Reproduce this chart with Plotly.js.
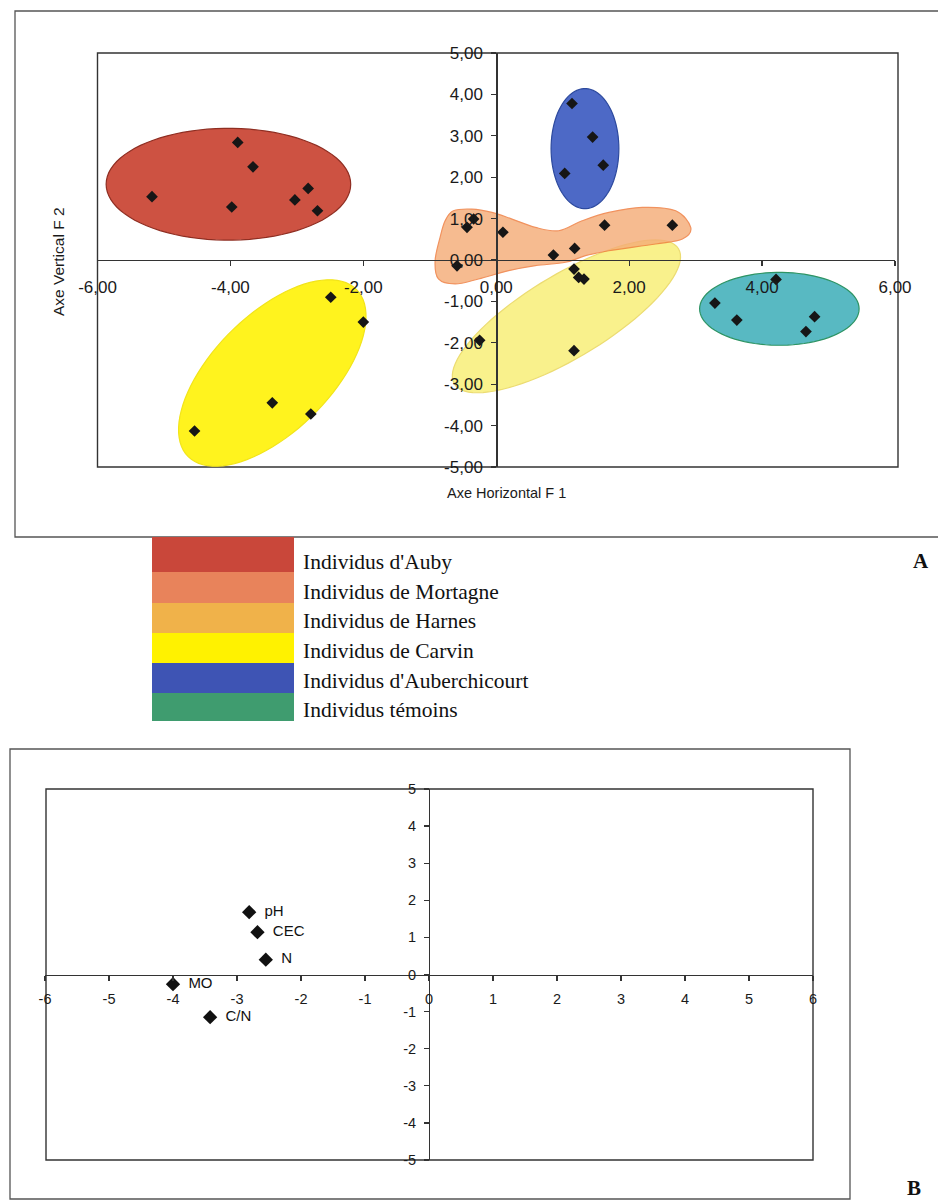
<!DOCTYPE html>
<html>
<head>
<meta charset="utf-8">
<script src="https://cdn.plot.ly/plotly-3.0.1.min.js"></script>
<style>html,body{margin:0;padding:0;background:#fff;}#chart{width:938px;height:1202px;}</style>
</head>
<body>
<div id="chart"></div>
<script>
// ---------- Data ----------
const groupNames = ["Individus d'Auby", "Individus de Mortagne", "Individus de Harnes",
                    "Individus de Carvin", "Individus d'Auberchicourt", "Individus témoins"];
const aubyX   = [-5.18, -3.89, -3.66, -3.98, -2.83, -3.03, -2.69];
const aubyY   = [ 1.53,  2.84,  2.25,  1.28,  1.73,  1.45,  1.19];
const mortX   = [-0.44, -0.34, -0.59, 0.10, 0.86, 1.18, 1.63, 2.65];
const mortY   = [ 0.79,  0.99, -0.14, 0.67, 0.12, 0.28, 0.84, 0.84];
const harnesX = [1.17, 1.24, 1.32, -0.25, 1.17];
const harnesY = [-0.22, -0.42, -0.46, -1.94, -2.19];
const carvinX = [-2.49, -2.00, -3.37, -2.79, -4.54];
const carvinY = [-0.90, -1.50, -3.45, -3.72, -4.13];
const auberX  = [1.14, 1.45, 1.61, 1.03];
const auberY  = [3.78, 2.97, 2.29, 2.09];
const temoinX = [4.21, 3.29, 3.62, 4.79, 4.66];
const temoinY = [-0.47, -1.04, -1.45, -1.37, -1.73];

const varNames = ["pH", "CEC", "N", "MO", "C/N"];
const varX = [-2.81, -2.68, -2.55, -4.00, -3.42];
const varY = [ 1.68,  1.14,  0.40, -0.26, -1.15];

// tick values and labels
const topXTicks = [-6, -4, -2, 0, 2, 4, 6];
const topXLabels = ["-6,00", "-4,00", "-2,00", "0,00", "2,00", "4,00", "6,00"];
const topYTicks = [-5, -4, -3, -2, -1, 0, 1, 2, 3, 4, 5];
const topYLabels = ["-5,00", "-4,00", "-3,00", "-2,00", "-1,00", "0,00", "1,00", "2,00", "3,00", "4,00", "5,00"];
const botXTicks = [-6, -5, -4, -3, -2, -1, 0, 1, 2, 3, 4, 5, 6];
const botXLabels = ["-6", "-5", "-4", "-3", "-2", "-1", "0", "1", "2", "3", "4", "5", "6"];
const botYTicks = [-5, -4, -3, -2, -1, 0, 1, 2, 3, 4, 5];
const botYLabels = ["-5", "-4", "-3", "-2", "-1", "0", "1", "2", "3", "4", "5"];

// ---------- Group envelopes (drawn as shapes) ----------
const envAuby   = {c: [-4.03, 1.83], u: [1.84, 0], v: [0, 1.35]};
const envAuber  = {c: [1.335, 2.69], u: [0.51, 0], v: [0, 1.45]};
const envTemoin = {c: [4.26, -1.18], u: [1.20, 0], v: [0, 0.88]};
const envCarvin = {c: [-3.37, -2.73], u: [1.265, 2.02], v: [0.624, -0.997]};
const envHarnes = {c: [1.056, -1.361], u: [1.686, 1.633], v: [0.326, -0.860]};
const mortOutlineX = [-0.644,-0.367,-0.065,0.237,0.588,0.940,1.293,1.694,2.198,2.700,2.926,2.801,2.398,1.694,1.342,1.041,0.588,0.186,-0.267,-0.618,-0.870,-0.920,-0.845,-0.769];
const mortOutlineY = [1.188,1.229,1.149,0.988,0.788,0.706,0.947,1.149,1.270,1.188,0.788,0.506,0.386,0.224,0.104,-0.055,-0.137,-0.258,-0.458,-0.578,-0.458,-0.017,0.547,0.947];

function ellipsePath(e) {
  let s = '';
  const n = 90;
  for (let i = 0; i <= n; i++) {
    const t = 2 * Math.PI * i / n;
    const x = e.c[0] + e.u[0] * Math.cos(t) + e.v[0] * Math.sin(t);
    const y = e.c[1] + e.u[1] * Math.cos(t) + e.v[1] * Math.sin(t);
    s += (i === 0 ? 'M ' : ' L ') + x.toFixed(4) + ',' + y.toFixed(4);
  }
  return s + ' Z';
}
function smoothClosedPath(xs, ys) {
  const n = xs.length;
  const P = i => [xs[(i + n) % n], ys[(i + n) % n]];
  let s = 'M ' + xs[0] + ',' + ys[0];
  for (let i = 0; i < n; i++) {
    const p0 = P(i - 1), p1 = P(i), p2 = P(i + 1), p3 = P(i + 2);
    const c1 = [p1[0] + (p2[0] - p0[0]) / 6, p1[1] + (p2[1] - p0[1]) / 6];
    const c2 = [p2[0] - (p3[0] - p1[0]) / 6, p2[1] - (p3[1] - p1[1]) / 6];
    s += ' C ' + c1[0].toFixed(4) + ',' + c1[1].toFixed(4) + ' ' + c2[0].toFixed(4) + ',' + c2[1].toFixed(4) + ' ' + p2[0].toFixed(4) + ',' + p2[1].toFixed(4);
  }
  return s + ' Z';
}

// ---------- page geometry helpers (pixels -> paper) ----------
const W = 938, H = 1202;
const px = x => x / W;
const py = y => 1 - y / H;

const SANS = 'Liberation Sans, Arial, sans-serif';
const SERIF = 'Liberation Serif, Times New Roman, serif';
const AX = '#333333';

const T = {x0: 97.5, x1: 895, y0: 53, y1: 467};
const B = {x0: 45, x1: 813, y0: 789, y1: 1160};

const mk = {symbol: 'diamond', size: 9, color: '#161616', line: {width: 0}};
const traces = [
  {x: aubyX, y: aubyY, name: groupNames[0]},
  {x: mortX, y: mortY, name: groupNames[1]},
  {x: harnesX, y: harnesY, name: groupNames[2]},
  {x: carvinX, y: carvinY, name: groupNames[3]},
  {x: auberX, y: auberY, name: groupNames[4]},
  {x: temoinX, y: temoinY, name: groupNames[5]}
].map(t => Object.assign(t, {type: 'scatter', mode: 'markers', marker: mk, xaxis: 'x', yaxis: 'y', hoverinfo: 'x+y+name'}));

traces.push({
  type: 'scatter', mode: 'markers+text', x: varX, y: varY, text: varNames.map(s => '\u2002' + s),
  textposition: 'middle right', textfont: {family: SANS, size: 15, color: '#111'},
  marker: {symbol: 'diamond', size: 11, color: '#111', line: {width: 0}},
  xaxis: 'x2', yaxis: 'y2', cliponaxis: false
});

const shapes = [];
shapes.push({type: 'rect', xref: 'paper', yref: 'paper', x0: px(15), x1: px(960), y0: py(537), y1: py(11),
             line: {color: '#555', width: 1.3}, fillcolor: 'rgba(0,0,0,0)', layer: 'below'});
shapes.push({type: 'rect', xref: 'paper', yref: 'paper', x0: px(10), x1: px(850), y0: py(1199), y1: py(749),
             line: {color: '#555', width: 1.3}, fillcolor: 'rgba(0,0,0,0)', layer: 'below'});
shapes.push({type: 'rect', xref: 'paper', yref: 'paper', x0: px(T.x0), x1: px(T.x1 + 3), y0: py(T.y1), y1: py(T.y0),
             line: {color: AX, width: 1.4}, fillcolor: 'rgba(0,0,0,0)', layer: 'below'});
shapes.push({type: 'rect', xref: 'paper', yref: 'paper', x0: px(B.x0 + 1), x1: px(B.x1), y0: py(B.y1), y1: py(B.y0),
             line: {color: AX, width: 1.4}, fillcolor: 'rgba(0,0,0,0)', layer: 'below'});

function env(path, fill, line, opacity) {
  shapes.push({type: 'path', xref: 'x', yref: 'y', path: path, fillcolor: fill,
               line: {color: line, width: 1.2}, opacity: opacity, layer: 'below'});
}
env(ellipsePath(envAuby), '#cd5242', '#8f2e22', 1);
env(ellipsePath(envAuber), '#4d69c6', '#2d4a9e', 1);
env(ellipsePath(envTemoin), '#58b9c2', '#2e9464', 1);
env(ellipsePath(envCarvin), '#fff31e', '#f2e41a', 1);
env(ellipsePath(envHarnes), '#f8ef78', '#e9d65a', 0.85);
env(smoothClosedPath(mortOutlineX, mortOutlineY), '#f5ad78', '#ee7b3c', 0.82);

const bandColors = ['#c9473a', '#e8835b', '#f0b24a', '#fff200', '#3e54b4', '#3f9c6f'];
const bandEdges = [537, 572, 603, 633, 663, 693, 721];
for (let i = 0; i < 6; i++) {
  shapes.push({type: 'rect', xref: 'paper', yref: 'paper', x0: px(152), x1: px(294),
               y0: py(bandEdges[i + 1]), y1: py(bandEdges[i]), fillcolor: bandColors[i],
               line: {width: 0}, layer: 'below'});
}

const annotations = [];
const legendY = [562, 592, 621, 651, 681, 710];
groupNames.forEach((g, i) => annotations.push({
  xref: 'paper', yref: 'paper', x: px(301), y: py(legendY[i]), xanchor: 'left', yanchor: 'middle',
  text: g, showarrow: false, font: {family: SERIF, size: 21.5, color: '#111'}
}));
annotations.push({xref: 'paper', yref: 'paper', x: px(506), y: py(493), xanchor: 'center', yanchor: 'middle',
  text: 'Axe Horizontal F 1', showarrow: false, font: {family: SANS, size: 14.5, color: '#1a1a1a'}});
annotations.push({xref: 'paper', yref: 'paper', x: px(58), y: py(262), xanchor: 'center', yanchor: 'middle',
  text: 'Axe Vertical F 2', textangle: -90, showarrow: false, font: {family: SANS, size: 15.5, color: '#1a1a1a'}});
annotations.push({xref: 'paper', yref: 'paper', x: px(921), y: py(561), xanchor: 'center', yanchor: 'middle',
  text: '<b>A</b>', showarrow: false, font: {family: SERIF, size: 21, color: '#111'}});
annotations.push({xref: 'paper', yref: 'paper', x: px(914), y: py(1188), xanchor: 'center', yanchor: 'middle',
  text: '<b>B</b>', showarrow: false, font: {family: SERIF, size: 21, color: '#111'}});

function axisBase(extra) {
  return Object.assign({
    showgrid: false, zeroline: false, showline: true, linecolor: AX, linewidth: 1.4,
    ticks: 'outside', ticklen: 5, tickcolor: AX, tickwidth: 1.2, tickmode: 'array',
    anchor: 'free', fixedrange: true
  }, extra);
}

const layout = {
  width: W, height: H, margin: {l: 0, r: 0, t: 0, b: 0},
  paper_bgcolor: '#ffffff', plot_bgcolor: 'rgba(0,0,0,0)',
  showlegend: false, separators: ', ', hovermode: 'closest',
  xaxis: axisBase({domain: [px(T.x0), px(T.x1)], range: [-6, 6], tickvals: topXTicks, ticktext: topXLabels,
                   position: py((T.y0 + T.y1) / 2), tickfont: {family: SANS, size: 17, color: '#1a1a1a'}, ticklabelstandoff: 6}),
  yaxis: axisBase({domain: [py(T.y1), py(T.y0)], range: [-5, 5], tickvals: topYTicks, ticktext: topYLabels,
                   position: px((T.x0 + T.x1) / 2), tickfont: {family: SANS, size: 17, color: '#1a1a1a'}, ticklabelstandoff: 5}),
  xaxis2: axisBase({domain: [px(B.x0), px(B.x1)], range: [-6, 6], tickvals: botXTicks, ticktext: botXLabels,
                    position: py((B.y0 + B.y1) / 2), tickfont: {family: SANS, size: 14.5, color: '#1a1a1a'}, ticklabelstandoff: 6}),
  yaxis2: axisBase({domain: [py(B.y1), py(B.y0)], range: [-5, 5], tickvals: botYTicks, ticktext: botYLabels,
                    position: px((B.x0 + B.x1) / 2), tickfont: {family: SANS, size: 14.5, color: '#1a1a1a'}, ticklabelstandoff: 5}),
  shapes: shapes,
  annotations: annotations
};

Plotly.newPlot('chart', traces, layout, {displayModeBar: false, staticPlot: true});
</script>
</body>
</html>
